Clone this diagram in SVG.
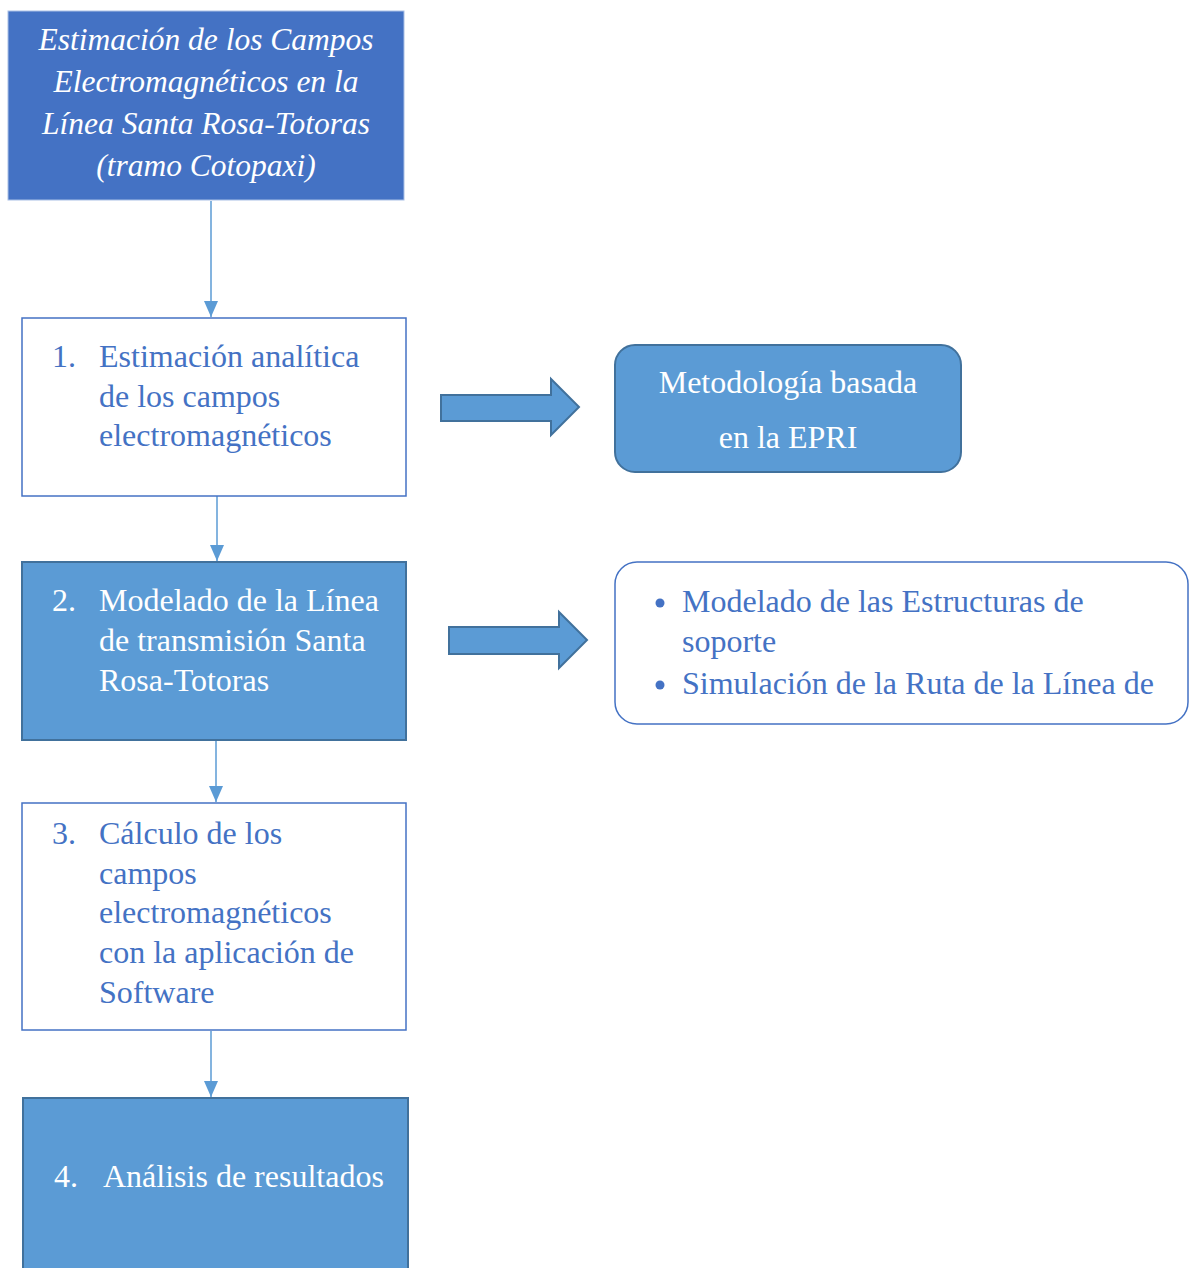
<svg xmlns="http://www.w3.org/2000/svg" width="1189" height="1268" viewBox="0 0 1189 1268">
<defs>
<style>
.w{fill:#ffffff}
.b{fill:#4472C4}
.dark{fill:#5B9BD5;stroke:#41719C;stroke-width:2}
.light{fill:#ffffff;stroke:#4472C4;stroke-width:1.5}
.conn{stroke:#5B9BD5;stroke-width:1.5;fill:none}
.blk{fill:#5B9BD5;stroke:#41719C;stroke-width:2}
</style>
<marker id="ah2" viewBox="0 0 16 14" refX="16" refY="7" markerWidth="16" markerHeight="14" markerUnits="userSpaceOnUse" orient="auto"><path d="M0,0 L16,7 L0,14 z" fill="#5B9BD5"/></marker>
</defs>
<rect width="1189" height="1268" fill="#ffffff"/>
<g id="connectors">
<line class="conn" x1="211" y1="201" x2="211" y2="317" marker-end="url(#ah2)"/>
<line class="conn" x1="217" y1="496" x2="217" y2="561" marker-end="url(#ah2)"/>
<line class="conn" x1="216" y1="741" x2="216" y2="802" marker-end="url(#ah2)"/>
<line class="conn" x1="211" y1="1031" x2="211" y2="1097" marker-end="url(#ah2)"/>
<path class="blk" d="M441,395 L551,395 L551,379 L579,407 L551,435 L551,421 L441,421 Z"/>
<path class="blk" d="M449,627 L559,627 L559,612 L587,640 L559,668 L559,654 L449,654 Z"/>
</g>
<g font-family="'Liberation Serif', 'Times New Roman', serif" font-size="32">
<g id="title">
<rect x="8" y="11" width="396" height="189" fill="#4472C4" stroke="#A9C0E6" stroke-width="1"/>
<text class="w" font-style="italic" text-anchor="middle" font-size="31.5"><tspan x="206" y="50">Estimación de los Campos</tspan><tspan x="206" y="92">Electromagnéticos en la</tspan><tspan x="206" y="134">Línea Santa Rosa-Totoras</tspan><tspan x="206" y="176">(tramo Cotopaxi)</tspan></text>
</g>
<g id="step1">
<rect class="light" x="22" y="318" width="384" height="178"/>
<text class="b"><tspan x="52" y="367">1.</tspan><tspan x="99" y="367">Estimación analítica</tspan><tspan x="99" y="407">de los campos</tspan><tspan x="99" y="446">electromagnéticos</tspan></text>
</g>
<g id="epri">
<rect class="dark" x="615" y="345" width="346" height="127" rx="20"/>
<text class="w" text-anchor="middle"><tspan x="788" y="393">Metodología basada</tspan><tspan x="788" y="448">en la EPRI</tspan></text>
</g>
<g id="step2">
<rect class="dark" x="22" y="562" width="384" height="178"/>
<text class="w"><tspan x="52" y="611">2.</tspan><tspan x="99" y="611">Modelado de la Línea</tspan><tspan x="99" y="651">de transmisión Santa</tspan><tspan x="99" y="691">Rosa-Totoras</tspan></text>
</g>
<g id="modelado">
<rect class="light" x="615" y="562" width="573" height="162" rx="22"/>
<circle cx="660" cy="603" r="4.5" fill="#4472C4"/>
<circle cx="660" cy="685" r="4.5" fill="#4472C4"/>
<text class="b"><tspan x="682" y="612">Modelado de las Estructuras de</tspan><tspan x="682" y="652">soporte</tspan><tspan x="682" y="694">Simulación de la Ruta de la Línea de</tspan></text>
</g>
<g id="step3">
<rect class="light" x="22" y="803" width="384" height="227"/>
<text class="b"><tspan x="52" y="844">3.</tspan><tspan x="99" y="844">Cálculo de los</tspan><tspan x="99" y="884">campos</tspan><tspan x="99" y="923">electromagnéticos</tspan><tspan x="99" y="963">con la aplicación de</tspan><tspan x="99" y="1003">Software</tspan></text>
</g>
<g id="step4">
<rect class="dark" x="23" y="1098" width="385" height="180"/>
<text class="w"><tspan x="54" y="1187">4.</tspan><tspan x="103" y="1187">Análisis de resultados</tspan></text>
</g>
</g>
</svg>
